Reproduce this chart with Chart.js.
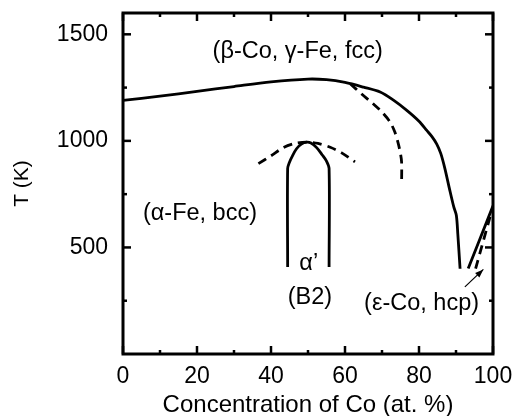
<!DOCTYPE html>
<html>
<head>
<meta charset="utf-8">
<script src="https://cdn.jsdelivr.net/npm/chart.js@4.4.1/dist/chart.umd.min.js"></script>
<style>
  html, body { margin: 0; padding: 0; background: #fff; }
</style>
</head>
<body>
<canvas id="myChart" width="513" height="416"></canvas>
<script>
// Fe-Co phase diagram (Co at.% / T in K)
const fccCo = [0, 10, 20, 30, 40, 50, 55, 60, 65, 69.5, 73, 76.7, 80, 82.1, 83.5, 84.8, 85.9, 87.0, 88.3, 89.4, 90.1, 90.5, 91.1];
const fccT  = [1190, 1210, 1232, 1255, 1277, 1290, 1287, 1274, 1252, 1229, 1192, 1143, 1092, 1049, 1020, 985, 940, 870, 770, 690, 650, 560, 400];

const metaCo = [61.4, 64.5, 67.6, 70, 72.2, 73.5, 74.4, 75.0, 75.3, 75.3];
const metaT  = [1268, 1220, 1174, 1135, 1088, 1040, 987, 940, 900, 800];

const b2Co = [44.5, 44.5, 45.0, 45.8, 46.9, 48.2, 49.6, 50.8, 52.4, 53.8, 55.0, 55.7, 55.7];
const b2T  = [408, 870, 900, 930, 963, 985, 994, 990, 967, 935, 905, 870, 408];

const domeCo = [36.6, 40, 43.3, 46.5, 49.6, 52.7, 56, 59, 62.7];
const domeT  = [893, 930, 968, 988, 994, 988, 970, 945, 901];

const hcpCo = [93.3, 100];
const hcpT  = [401, 695];

const hcpMetaCo = [95.3, 99.2];
const hcpMetaT  = [401, 643];

const coTicks = [0, 20, 40, 60, 80, 100];
const coMinor = [10, 30, 50, 70, 90];
const tTicks = [500, 1000, 1500];
const tMinor = [250, 750, 1250];

const phaseLabels = ['(β-Co, γ-Fe, fcc)', '(α-Fe, bcc)', 'α’', '(B2)', '(ε-Co, hcp)'];
const labelCo = [47.2, 20.8, 50.2, 50.5, 80.7];
const labelT  = [1420, 660, 426, 267, 239];

// arrow pointing at the hcp boundary
const arrowCo = [92.4, 97.4];
const arrowT  = [315, 397];

const FONT = '"Liberation Sans", Arial, Helvetica, sans-serif';

function pts(xs, ys) {
    return xs.map((v, i) => ({x: v, y: ys[i]}));
}

function line(data, dashed) {
    return {
        data: data,
        showLine: true,
        borderColor: '#000',
        borderWidth: 2.8,
        borderDash: dashed ? [9, 6] : [],
        pointRadius: 0,
        tension: 0.3,
        fill: false
    };
}

const framePlugin = {
    id: 'frame',
    afterDraw(chart) {
        const {ctx, chartArea: a, scales: {x, y}} = chart;
        ctx.save();
        ctx.strokeStyle = '#000';
        ctx.fillStyle = '#000';
        ctx.lineWidth = 3;
        ctx.strokeRect(a.left, a.top, a.right - a.left, a.bottom - a.top);

        const seg = (x1, y1, x2, y2) => {
            ctx.beginPath();
            ctx.moveTo(x1, y1);
            ctx.lineTo(x2, y2);
            ctx.stroke();
        };
        ctx.lineWidth = 2.5;
        coTicks.concat(coMinor).forEach(v => {
            const px = x.getPixelForValue(v);
            const len = coTicks.includes(v) ? 8 : 4;
            seg(px, a.bottom, px, a.bottom - len);
            seg(px, a.top, px, a.top + len);
        });
        tTicks.concat(tMinor).forEach(v => {
            const py = y.getPixelForValue(v);
            const len = tTicks.includes(v) ? 8 : 4;
            seg(a.left, py, a.left + len, py);
            seg(a.right, py, a.right - len, py);
        });

        // phase labels
        ctx.font = '23.5px ' + FONT;
        ctx.textAlign = 'center';
        ctx.textBaseline = 'middle';
        phaseLabels.forEach((s, i) => {
            ctx.fillText(s, x.getPixelForValue(labelCo[i]), y.getPixelForValue(labelT[i]));
        });

        // arrow
        const x1 = x.getPixelForValue(arrowCo[0]), y1 = y.getPixelForValue(arrowT[0]);
        const x2 = x.getPixelForValue(arrowCo[1]), y2 = y.getPixelForValue(arrowT[1]);
        ctx.lineWidth = 1.2;
        seg(x1, y1, x2, y2);
        const ang = Math.atan2(y2 - y1, x2 - x1);
        ctx.beginPath();
        ctx.moveTo(x2, y2);
        ctx.lineTo(x2 - 9 * Math.cos(ang - 0.35), y2 - 9 * Math.sin(ang - 0.35));
        ctx.lineTo(x2 - 9 * Math.cos(ang + 0.35), y2 - 9 * Math.sin(ang + 0.35));
        ctx.closePath();
        ctx.fill();
        ctx.restore();
    }
};

new Chart(document.getElementById('myChart').getContext('2d'), {
    type: 'scatter',
    data: {
        datasets: [
            line(pts(fccCo, fccT), false),
            line(pts(metaCo, metaT), true),
            line(pts(b2Co, b2T), false),
            line(pts(domeCo, domeT), true),
            line(pts(hcpCo, hcpT), false),
            line(pts(hcpMetaCo, hcpMetaT), true)
        ]
    },
    options: {
        responsive: false,
        animation: false,
        layout: { padding: { top: 13, right: 20, left: 0, bottom: 0 } },
        plugins: { legend: { display: false }, tooltip: { enabled: false } },
        scales: {
            x: {
                type: 'linear',
                min: 0,
                max: 100,
                afterBuildTicks: s => { s.ticks = coTicks.map(v => ({value: v})); },
                afterFit: s => { s.height = 62; s.paddingLeft = 0; s.paddingRight = 0; },
                grid: { display: false, drawTicks: false },
                border: { display: false },
                ticks: { color: '#000', padding: 9, maxRotation: 0, callback: v => String(v), font: { size: 23, family: FONT } },
                title: {
                    display: true,
                    text: 'Concentration of Co (at. %)',
                    color: '#000',
                    font: { size: 24, family: FONT },
                    padding: { top: 0, bottom: -4 }
                }
            },
            y: {
                type: 'linear',
                min: 0,
                max: 1600,
                afterBuildTicks: s => { s.ticks = tTicks.map(v => ({value: v})); },
                afterFit: s => { s.width = 123; s.paddingTop = 0; s.paddingBottom = 0; },
                grid: { display: false, drawTicks: false },
                border: { display: false },
                ticks: { color: '#000', padding: 15, callback: v => String(v), font: { size: 23, family: FONT } },
                title: {
                    display: true,
                    text: 'T (K)',
                    color: '#000',
                    font: { size: 21, family: FONT },
                    padding: { top: 10, bottom: 0 }
                }
            }
        }
    },
    plugins: [framePlugin]
});
</script>
</body>
</html>
